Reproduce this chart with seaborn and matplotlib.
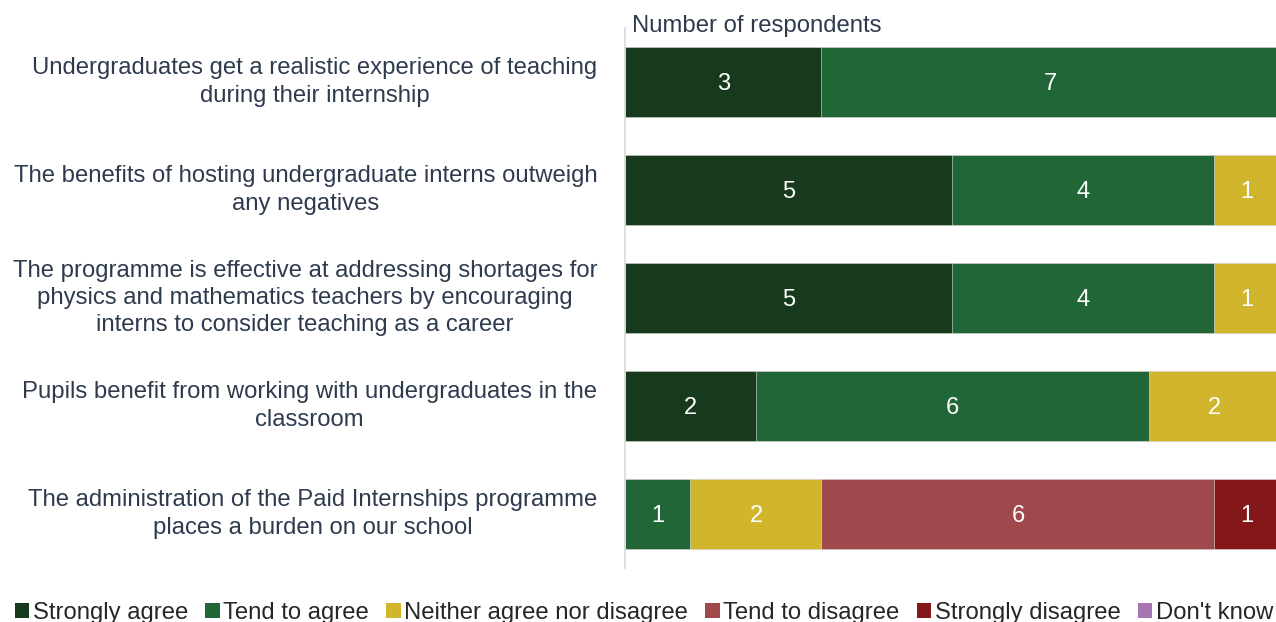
import numpy as np
import pandas as pd
import seaborn as sns
import matplotlib.pyplot as plt
from matplotlib.patches import Patch

# statements and responses (number of respondents)
statements = [
    "Undergraduates get a realistic experience of teaching\nduring their internship",
    "The benefits of hosting undergraduate interns outweigh\nany negatives",
    "The programme is effective at addressing shortages for\nphysics and mathematics teachers by encouraging\ninterns to consider teaching as a career",
    "Pupils benefit from working with undergraduates in the\nclassroom",
    "The administration of the Paid Internships programme\nplaces a burden on our school",
]
responses = ["Strongly agree", "Tend to agree", "Neither agree nor disagree",
             "Tend to disagree", "Strongly disagree", "Don't know"]
strongly_agree = [3, 5, 5, 2, 0]
tend_to_agree = [7, 4, 4, 6, 1]
neither = [0, 1, 1, 2, 2]
tend_to_disagree = [0, 0, 0, 0, 6]
strongly_disagree = [0, 0, 0, 0, 1]
dont_know = [0, 0, 0, 0, 0]
colors = ["#173a1d", "#216636", "#d0b52d", "#a0494c", "#841719", "#a774b4"]

series = [strongly_agree, tend_to_agree, neither, tend_to_disagree,
          strongly_disagree, dont_know]

sns.set_style("white")
plt.rcParams['font.family'] = ['Liberation Sans', 'DejaVu Sans']

fig = plt.figure(figsize=(12.76, 6.22), dpi=100)
ax = fig.add_axes([625 / 1276, 54 / 622, 651 / 1276, 540 / 622])

vals = np.array(series, dtype=float)
cum = vals.cumsum(axis=0)
left = cum - vals

# stacked bars: draw cumulative totals from the largest down
for i in range(len(responses) - 1, -1, -1):
    df = pd.DataFrame({"statement": statements, "total": cum[i]})
    sns.barplot(data=df, x="total", y="statement", orient="h", color=colors[i],
                saturation=1, width=0.648, edgecolor="#e8e8e8", linewidth=0.4, ax=ax)

# value labels
for i in range(len(responses)):
    for j in range(len(statements)):
        if vals[i, j] > 0:
            ax.text(left[i, j] + vals[i, j] / 2, j, f"{int(vals[i, j])}",
                    ha="center", va="center_baseline", color="white", fontsize=17)

ax.set_xlim(0, 9.94)
ax.set_ylim(4.5, -0.5)
ax.set_xlabel("")
ax.set_ylabel("")
ax.set_xticks([])
for s in ["top", "right", "bottom"]:
    ax.spines[s].set_visible(False)
ax.spines["left"].set_color("#d9d9d9")
ax.spines["left"].set_linewidth(1.2)
ax.tick_params(axis="y", length=0, pad=20)
ax.set_yticks(range(len(statements)))
ax.set_yticklabels(statements, fontsize=17.2, color="#2e3b4e", va="center",
                   multialignment="center", linespacing=1.3)
for lbl in ax.get_yticklabels():
    lbl.set_y(lbl.get_position()[1])

fig.text(632 / 1276, 1 - 26 / 622, "Number of respondents", fontsize=17.2,
         color="#2e3b4e", ha="left", va="center")

handles = [Patch(facecolor=c, edgecolor="none") for c in colors]
fig.legend(handles, responses, loc="center",
           bbox_to_anchor=(0.5 + 6 / 1276, 1 - 613 / 622),
           ncol=6, frameon=False, fontsize=17.2, handlelength=0.6, handleheight=0.6,
           handletextpad=0.15, columnspacing=0.72, borderaxespad=0)

fig.savefig("out.png", dpi=100)
